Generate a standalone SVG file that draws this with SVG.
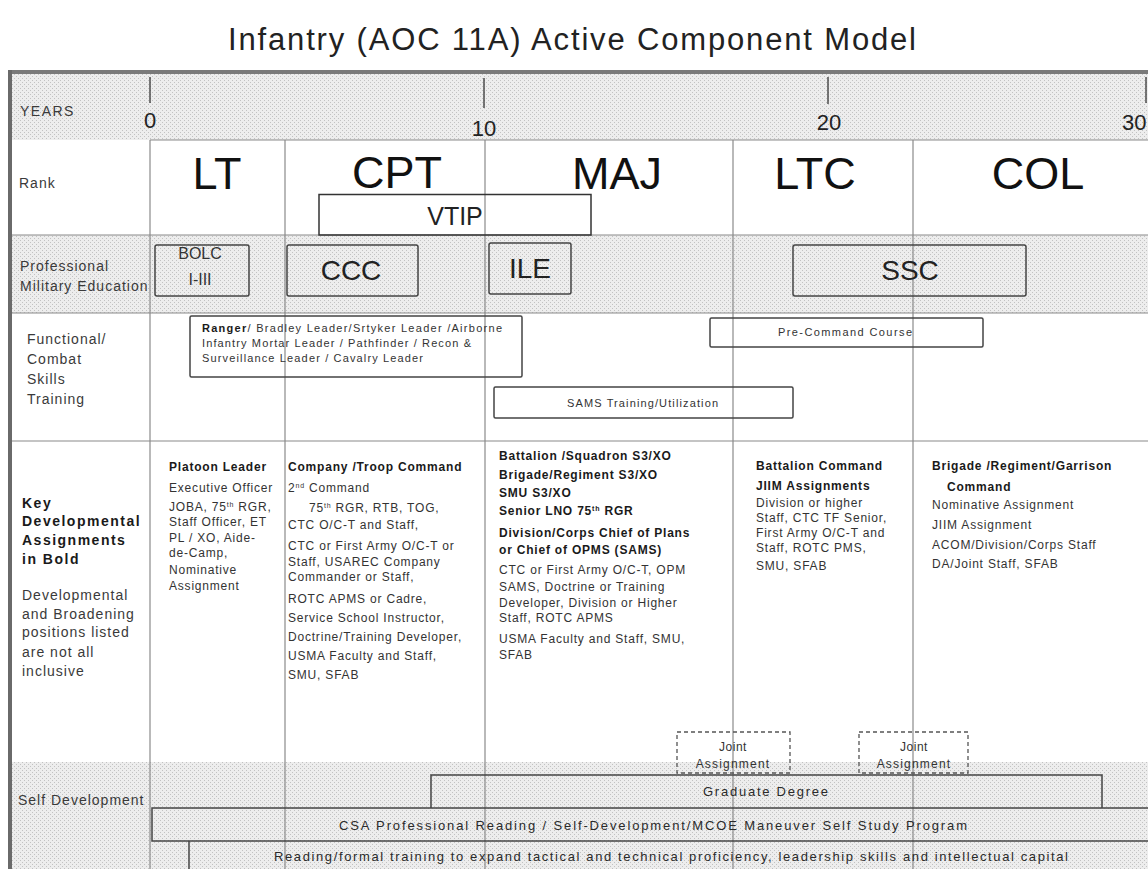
<svg xmlns="http://www.w3.org/2000/svg" width="1148" height="869" viewBox="0 0 1148 869">
<defs>
<pattern id="dots" width="4" height="4" patternUnits="userSpaceOnUse">
<rect width="4" height="4" fill="#ededed"/>
<rect x="0" y="0" width="1" height="1" fill="#c2c2c2"/>
<rect x="2" y="2" width="1" height="1" fill="#c2c2c2"/>
</pattern>
</defs>
<style>
text{font-family:"Liberation Sans",Arial,sans-serif}
.lbl{font-size:14px;fill:#3a3a3a;letter-spacing:1px}
.kb{font-size:14px;fill:#1a1a1a;font-weight:bold;letter-spacing:1.5px}
.rank{font-size:45px;fill:#111;text-anchor:middle}
.big{font-size:28px;fill:#222;text-anchor:middle}
.yr{font-size:22px;fill:#222;text-anchor:middle}
.t{font-size:12px;fill:#333;letter-spacing:0.8px}
.b{font-weight:bold;fill:#1a1a1a}
.sm{font-size:11px;fill:#333}
.sd{font-size:13px;fill:#2a2a2a}
.box{fill:none;stroke:#444;stroke-width:1.5}
.grid{stroke:#8a8a8a;stroke-width:1.2;fill:none}
.dash{fill:none;stroke:#555;stroke-width:1.3;stroke-dasharray:4 3}
.shade{fill:url(#dots)}
</style>
<rect width="1148" height="869" fill="#ffffff"/>
<g id="title">
<text x="228" y="50" font-size="31" fill="#222" textLength="688" lengthAdjust="spacing">Infantry (AOC 11A) Active Component Model</text>
</g>
<g id="bands">
<rect class="shade" x="12" y="74" width="1136" height="66"/>
<rect class="shade" x="12" y="235" width="1136" height="78"/>
<rect class="shade" x="12" y="762" width="1136" height="107"/>
</g>
<g id="connectors">
<line class="grid" x1="150" y1="140" x2="1148" y2="140"/>
<line class="grid" x1="12" y1="235" x2="1148" y2="235"/>
<line class="grid" x1="12" y1="313" x2="1148" y2="313"/>
<line class="grid" x1="12" y1="441" x2="1148" y2="441"/>
<line class="grid" x1="150" y1="140" x2="150" y2="869"/>
<line class="grid" x1="285" y1="140" x2="285" y2="869"/>
<line class="grid" x1="485" y1="140" x2="485" y2="869"/>
<line class="grid" x1="733" y1="140" x2="733" y2="869"/>
<line class="grid" x1="913" y1="140" x2="913" y2="869"/>
<line stroke="#333" stroke-width="1.3" x1="150" y1="77" x2="150" y2="103"/>
<line stroke="#333" stroke-width="1.3" x1="484" y1="78" x2="484" y2="108"/>
<line stroke="#333" stroke-width="1.3" x1="828" y1="77" x2="828" y2="104"/>
<line stroke="#333" stroke-width="1.3" x1="1146" y1="77" x2="1146" y2="103"/>
</g>
<g id="frame">
<line x1="8" y1="72" x2="1148" y2="72" stroke="#7a7a7a" stroke-width="4"/>
<line x1="10" y1="70" x2="10" y2="869" stroke="#6a6a6a" stroke-width="4"/>
</g>
<g id="row-labels">
<text class="lbl" x="20" y="116" style="letter-spacing:1.5px">YEARS</text>
<text class="lbl" x="19" y="188">Rank</text>
<text class="lbl" x="20" y="271">Professional</text>
<text class="lbl" x="20" y="291">Military Education</text>
<text class="lbl" x="27" y="344">Functional/</text>
<text class="lbl" x="27" y="364">Combat</text>
<text class="lbl" x="27" y="384">Skills</text>
<text class="lbl" x="27" y="404">Training</text>
<text class="kb" x="22" y="508">Key</text>
<text class="kb" x="22" y="526">Developmental</text>
<text class="kb" x="22" y="545">Assignments</text>
<text class="kb" x="22" y="564">in Bold</text>
<text class="lbl" x="22" y="600">Developmental</text>
<text class="lbl" x="22" y="619">and Broadening</text>
<text class="lbl" x="22" y="637">positions listed</text>
<text class="lbl" x="22" y="657">are not all</text>
<text class="lbl" x="22" y="676">inclusive</text>
<text class="lbl" x="18" y="805">Self Development</text>
</g>
<g id="years">
<text class="yr" x="150" y="128">0</text>
<text class="yr" x="484" y="136">10</text>
<text class="yr" x="829" y="130">20</text>
<text class="yr" x="1122" y="130" style="text-anchor:start">30</text>
</g>
<g id="ranks">
<text class="rank" x="217" y="189">LT</text>
<text class="rank" x="397" y="188">CPT</text>
<text class="rank" x="617" y="189">MAJ</text>
<text class="rank" x="815" y="189">LTC</text>
<text class="rank" x="1038" y="189">COL</text>
</g>
<g id="vtip">
<rect x="319" y="194.5" width="272" height="40.5" fill="none" stroke="#333" stroke-width="1.5"/>
<text x="455" y="225" font-size="25" fill="#222" text-anchor="middle">VTIP</text>
</g>
<g id="bolc">
<rect class="box" x="155" y="245" width="94" height="51" rx="2"/>
<text x="200" y="259" font-size="16" fill="#333" text-anchor="middle">BOLC</text>
<text x="200" y="285" font-size="16" fill="#333" text-anchor="middle">I-III</text>
</g>
<g id="ccc">
<rect class="box" x="287" y="245" width="131" height="51" rx="2"/>
<text class="big" x="351" y="280">CCC</text>
</g>
<g id="ile">
<rect class="box" x="489" y="243" width="82" height="51" rx="2"/>
<text class="big" x="530" y="278">ILE</text>
</g>
<g id="ssc">
<rect class="box" x="793" y="245" width="233" height="51" rx="2"/>
<text class="big" x="910" y="280" font-size="29">SSC</text>
</g>
<g id="ranger">
<rect class="box" x="190" y="316" width="332" height="61" rx="1.5"/>
<text class="sm" x="202" y="332" textLength="300" lengthAdjust="spacing"><tspan font-weight="bold" fill="#1a1a1a">Ranger</tspan>/ Bradley Leader/Srtyker Leader /Airborne</text>
<text class="sm" x="202" y="347" textLength="269" lengthAdjust="spacing">Infantry Mortar Leader / Pathfinder / Recon &amp;</text>
<text class="sm" x="202" y="362" textLength="221" lengthAdjust="spacing">Surveillance Leader / Cavalry Leader</text>
</g>
<g id="precommand">
<rect class="box" x="710" y="318" width="273" height="29" rx="1.5"/>
<text class="sm" x="778" y="336" textLength="134" lengthAdjust="spacing">Pre-Command  Course</text>
</g>
<g id="sams">
<rect class="box" x="494" y="387" width="299" height="31" rx="1.5"/>
<text class="sm" x="567" y="407" textLength="151" lengthAdjust="spacing">SAMS  Training/Utilization</text>
</g>
<g id="lt-assignments">
<text class="t b" x="169" y="471">Platoon Leader</text>
<text class="t" x="169" y="492">Executive Officer</text>
<text class="t" x="169" y="511">JOBA, 75<tspan font-size="7" dy="-4">th</tspan><tspan dy="4"> RGR,</tspan></text>
<text class="t" x="169" y="526">Staff Officer, ET</text>
<text class="t" x="169" y="542">PL / XO, Aide-</text>
<text class="t" x="169" y="557">de-Camp,</text>
<text class="t" x="169" y="574">Nominative</text>
<text class="t" x="169" y="590">Assignment</text>
</g>
<g id="cpt-assignments">
<text class="t b" x="288" y="471">Company /Troop Command</text>
<text class="t" x="288" y="492">2<tspan font-size="7" dy="-4">nd</tspan><tspan dy="4"> Command</tspan></text>
<text class="t" x="309" y="512">75<tspan font-size="7" dy="-4">th</tspan><tspan dy="4"> RGR,  RTB,  TOG,</tspan></text>
<text class="t" x="288" y="529">CTC O/C-T and Staff,</text>
<text class="t" x="288" y="550">CTC  or First Army O/C-T or</text>
<text class="t" x="288" y="566">Staff, USAREC  Company</text>
<text class="t" x="288" y="581">Commander  or Staff,</text>
<text class="t" x="288" y="603">ROTC  APMS or Cadre,</text>
<text class="t" x="288" y="622">Service School Instructor,</text>
<text class="t" x="288" y="641">Doctrine/Training Developer,</text>
<text class="t" x="288" y="660">USMA Faculty and Staff,</text>
<text class="t" x="288" y="679">SMU,  SFAB</text>
</g>
<g id="maj-assignments">
<text class="t b" x="499" y="460">Battalion /Squadron S3/XO</text>
<text class="t b" x="499" y="479">Brigade/Regiment S3/XO</text>
<text class="t b" x="499" y="497">SMU S3/XO</text>
<text class="t b" x="499" y="515">Senior LNO 75<tspan font-size="7" dy="-4">th</tspan><tspan dy="4"> RGR</tspan></text>
<text class="t b" x="499" y="537">Division/Corps Chief of Plans</text>
<text class="t b" x="499" y="554">or Chief of OPMS (SAMS)</text>
<text class="t" x="499" y="574">CTC  or First Army O/C-T, OPM</text>
<text class="t" x="499" y="591">SAMS, Doctrine or Training</text>
<text class="t" x="499" y="607">Developer, Division or Higher</text>
<text class="t" x="499" y="622">Staff, ROTC APMS</text>
<text class="t" x="499" y="643">USMA Faculty and Staff, SMU,</text>
<text class="t" x="499" y="659">SFAB</text>
</g>
<g id="ltc-assignments">
<text class="t b" x="756" y="470">Battalion Command</text>
<text class="t b" x="756" y="490">JIIM  Assignments</text>
<text class="t" x="756" y="507">Division or higher</text>
<text class="t" x="756" y="522">Staff, CTC TF Senior,</text>
<text class="t" x="756" y="537">First Army O/C-T and</text>
<text class="t" x="756" y="552">Staff, ROTC PMS,</text>
<text class="t" x="756" y="570">SMU,  SFAB</text>
</g>
<g id="col-assignments">
<text class="t b" x="932" y="470">Brigade /Regiment/Garrison</text>
<text class="t b" x="947" y="491">Command</text>
<text class="t" x="932" y="509">Nominative  Assignment</text>
<text class="t" x="932" y="529">JIIM  Assignment</text>
<text class="t" x="932" y="549">ACOM/Division/Corps  Staff</text>
<text class="t" x="932" y="568">DA/Joint Staff, SFAB</text>
</g>
<g id="joint-1">
<rect class="dash" x="677" y="732" width="113" height="41"/>
<text class="t" x="733" y="751" text-anchor="middle" style="letter-spacing:0.5px">Joint</text>
<text class="t" x="733" y="768" text-anchor="middle" style="letter-spacing:1.2px">Assignment</text>
</g>
<g id="joint-2">
<rect class="dash" x="859" y="732" width="109" height="41"/>
<text class="t" x="914" y="751" text-anchor="middle" style="letter-spacing:0.5px">Joint</text>
<text class="t" x="914" y="768" text-anchor="middle" style="letter-spacing:1.2px">Assignment</text>
</g>
<g id="graduate">
<path class="box" d="M431 808 V775 H1102 V808"/>
<text class="sd" x="703" y="796" textLength="125" lengthAdjust="spacing">Graduate  Degree</text>
</g>
<g id="csa">
<rect class="box" x="152" y="808" width="1010" height="33"/>
<text class="sd" x="339" y="830" textLength="628" lengthAdjust="spacing">CSA Professional  Reading  / Self-Development/MCOE  Maneuver  Self Study Program</text>
</g>
<g id="reading">
<path class="box" d="M189 871 V841"/>
<text class="sd" x="274" y="861" textLength="794" lengthAdjust="spacing">Reading/formal  training to expand tactical and technical proficiency, leadership skills and intellectual capital</text>
</g>
</svg>
